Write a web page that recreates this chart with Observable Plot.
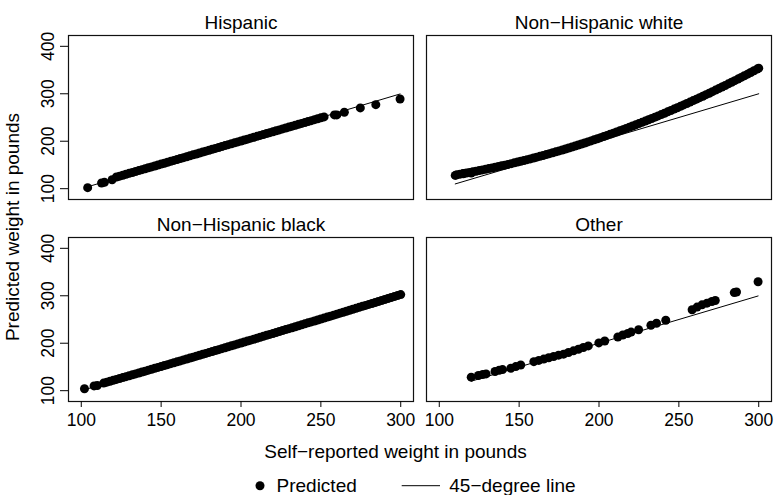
<!DOCTYPE html>
<html>
<head>
<meta charset="utf-8">
<script src="https://cdn.jsdelivr.net/npm/d3@7"></script>
<script src="https://cdn.jsdelivr.net/npm/@observablehq/plot@0.6"></script>
<style>
  html, body { margin: 0; padding: 0; background: white; }
  #chart svg { display: block; }
</style>
</head>
<body>
<div id="chart"></div>
<script>
// ---------- data ----------
const groups = ["Hispanic", "Non\u2212Hispanic white", "Non\u2212Hispanic black", "Other"];
const groupCol = [0, 1, 0, 1];
const groupRow = [0, 0, 1, 1];

const hispanicSelf = [104, 112.7, 114.5, 119.3,
  122,124,126,128,130,132,134,136,138,140,142,144,146,148,150,152,154,156,158,160,
  162,164,166,168,170,172,174,176,178,180,182,184,186,188,190,192,194,196,198,200,
  202,204,206,208,210,212,214,216,218,220,222,224,226,228,230,232,234,236,238,240,
  242,244,246,248,250,252,
  258.5, 260, 264.7, 274.7, 284.4, 299.6];
const hispanicPred = [102.1, 112, 113.3, 118.9,
  124.5,126.4,128.4,130.3,132.3,134.2,136.2,138.1,140.1,142.0,144.0,145.9,147.9,149.8,151.8,153.7,155.7,157.6,159.6,161.5,
  163.5,165.4,167.4,169.3,171.3,173.2,175.2,177.1,179.1,181.0,183.0,184.9,186.9,188.8,190.8,192.7,194.7,196.6,198.6,200.5,
  202.5,204.4,206.4,208.3,210.3,212.2,214.2,216.1,218.1,220.0,222.0,223.9,225.9,227.8,229.8,231.7,233.7,235.6,237.6,239.5,
  241.5,243.4,245.4,247.3,249.3,251.2,
  255.5, 255.5, 261.1, 270.2, 277.1, 289];

const whiteSelf = [110, 115, 120,
  111,113,115,117,119,121,123,125,127,129,131,133,135,137,139,141,143,145,147,149,
  151,153,155,157,159,161,163,165,167,169,171,173,175,177,179,181,183,185,187,189,
  191,193,195,197,199,201,203,205,207,209,211,213,215,217,219,221,223,225,227,229,
  231,233,235,237,239,241,243,245,247,249,251,253,255,257,259,261,263,265,267,269,
  271,273,275,277,279,281,283,285,287,289,291,293,295,297,299,300];
const whitePred = [128, 131.5, 133,
  129.4,130.6,131.8,133.0,134.2,135.5,136.8,138.1,139.5,140.8,142.3,143.7,145.1,146.6,148.1,149.6,151.2,152.8,154.4,156.0,
  157.7,159.4,161.1,162.8,164.6,166.4,168.2,170.0,171.9,173.8,175.7,177.6,179.6,181.6,183.6,185.7,187.7,189.8,192.0,194.1,
  196.3,198.5,200.7,203.0,205.2,207.5,209.9,212.2,214.6,217.0,219.5,221.9,224.4,227.0,229.4,232.0,234.6,237.2,239.8,242.5,
  245.2,247.9,250.7,253.4,256.2,259.0,261.9,264.8,267.7,270.6,273.5,276.5,279.5,282.5,285.6,288.7,291.8,294.9,298.1,301.2,
  304.4,307.7,310.9,314.2,317.5,320.9,324.2,327.6,331.0,334.5,337.9,341.4,344.9,348.5,352.0,354.0];

const blackSelf = [102, 108, 110,
  114,116,118,120,122,124,126,128,130,132,134,136,138,140,142,144,146,148,150,152,154,156,158,160,
  162,164,166,168,170,172,174,176,178,180,182,184,186,188,190,192,194,196,198,200,202,204,206,208,
  210,212,214,216,218,220,222,224,226,228,230,232,234,236,238,240,242,244,246,248,250,252,254,256,
  258,260,262,264,266,268,270,272,274,276,278,280,282,284,286,288,290,292,294,296,298,300];
const blackPred = [104, 110, 111,
  116.0,117.9,119.8,121.8,123.7,125.7,127.6,129.5,131.5,133.4,135.4,137.3,139.3,141.2,143.2,145.1,147.1,149.0,151.0,153.0,154.9,156.9,158.9,160.8,
  162.8,164.8,166.7,168.7,170.7,172.7,174.6,176.6,178.6,180.6,182.6,184.6,186.5,188.5,190.5,192.5,194.5,196.5,198.5,200.5,202.5,204.5,206.5,208.5,
  210.5,212.5,214.5,216.6,218.6,220.6,222.6,224.6,226.6,228.7,230.7,232.7,234.7,236.8,238.8,240.8,242.9,244.9,246.9,249.0,251.0,253.0,255.1,257.1,
  259.2,261.2,263.3,265.3,267.4,269.4,271.5,273.5,275.6,277.7,279.7,281.8,283.8,285.9,288.0,290.1,292.1,294.2,296.3,298.3,300.4,302.5];

const otherSelf = [120, 124.5, 127.2, 129.3, 134.9, 137.5, 139.6, 144.8, 147.9, 151,
  159.2, 162.3, 165.4, 168.5, 171.6, 174.7, 177.8, 180.9, 184, 187.1, 190.2, 193.3,
  199.9, 203.6, 211.8, 214.9, 218, 220.1, 224.8, 232.5, 236, 241.8,
  258.3, 261.4, 264.5, 267.6, 270.7, 272.8, 284.7, 286.1, 299.6];
const otherPred = [128.5, 132, 134, 135.3, 140.3, 143, 144.5, 147.2, 150.7, 154,
  161.1, 163.8, 166.5, 169.4, 172.1, 174.8, 176.9, 180.5, 184, 187.3, 190.9, 194.4,
  200.6, 204.8, 213.1, 217.3, 220.6, 223.5, 228.3, 238, 242.2, 248.4,
  270.5, 276.1, 280.9, 284.4, 288, 290, 306.7, 307.9, 329.5];

const xTicks = [100, 150, 200, 250, 300];
const yTicks = [100, 200, 300, 400];
const legendLabels = ["Predicted", "45\u2212degree line"];
const xTitle = "Self\u2212reported weight in pounds";
const yTitle = "Predicted weight in pounds";

// ---------- build tables ----------
const series = [[hispanicSelf, hispanicPred], [whiteSelf, whitePred], [blackSelf, blackPred], [otherSelf, otherPred]];
const points = [];
const lineData = [];
const titles = [];
series.forEach(([xs, ys], g) => {
  xs.forEach((x, i) => points.push({group: groups[g], col: groupCol[g], row: groupRow[g], self: x, pred: ys[i]}));
  const [lo, hi] = d3.extent(xs);
  lineData.push({group: groups[g], col: groupCol[g], row: groupRow[g], x: lo, y: lo});
  lineData.push({group: groups[g], col: groupCol[g], row: groupRow[g], x: hi, y: hi});
  titles.push({group: groups[g], col: groupCol[g], row: groupRow[g]});
});

const FONT = "'Liberation Sans', Arial, Helvetica, sans-serif";
const W = 777, H = 470;
const mL = 67, mR = 6, mT = 34, mB = 68;

const chart = Plot.plot({
  width: W, height: H,
  marginLeft: mL, marginRight: mR, marginTop: mT, marginBottom: mB,
  style: {fontFamily: FONT, fontSize: "17.5px", color: "black", background: "white"},
  x: {domain: [92, 308], label: null},
  y: {domain: [77.2, 422.8], label: null},
  fx: {domain: [0, 1], paddingInner: 0.037, paddingOuter: 0, axis: null},
  fy: {domain: [0, 1], paddingInner: 0.187, paddingOuter: 0, axis: null},
  marks: [
    Plot.frame({stroke: "#111", strokeWidth: 1.2}),
    Plot.line(lineData, {x: "x", y: "y", z: "group", fx: "col", fy: "row", stroke: "black", strokeWidth: 1}),
    Plot.dot(points, {x: "self", y: "pred", fx: "col", fy: "row", r: 4.5, fill: "black", stroke: null}),
    Plot.text(titles, {text: "group", fx: "col", fy: "row", frameAnchor: "top", lineAnchor: "bottom", dy: -7, fontSize: 19, fill: "black"}),
    Plot.axisX({ticks: xTicks, tickSize: 6, tickPadding: 6, label: null, facetAnchor: "bottom", stroke: "black", fill: "black"}),
    Plot.axisY({ticks: yTicks, tickSize: 8, tickPadding: 7, tickRotate: -90, textAnchor: "middle", lineAnchor: "bottom", label: null, facetAnchor: "left", stroke: "black", fill: "black"})
  ]
});

const svg = d3.select(chart);
svg.append("text")
  .attr("x", 395.5).attr("y", 458)
  .attr("text-anchor", "middle")
  .attr("font-family", FONT).attr("font-size", 19).attr("fill", "black")
  .text(xTitle);
svg.append("text")
  .attr("transform", "translate(19,227) rotate(-90)")
  .attr("text-anchor", "middle")
  .attr("font-family", FONT).attr("font-size", 19).attr("fill", "black")
  .text(yTitle);

document.getElementById("chart").appendChild(chart);

// ---------- legend below the plot ----------
const leg = d3.select("#chart").append("svg")
  .attr("width", W).attr("height", 25)
  .style("display", "block")
  .attr("font-family", FONT).attr("font-size", 19);
leg.append("circle").attr("cx", 260).attr("cy", 15.7).attr("r", 4.5).attr("fill", "black");
leg.append("text").attr("x", 276.5).attr("y", 21.5).attr("fill", "black").text(legendLabels[0]);
leg.append("line").attr("x1", 401.7).attr("x2", 440).attr("y1", 15.7).attr("y2", 15.7).attr("stroke", "black").attr("stroke-width", 1);
leg.append("text").attr("x", 449.3).attr("y", 21.5).attr("fill", "black").text(legendLabels[1]);
</script>
</body>
</html>
